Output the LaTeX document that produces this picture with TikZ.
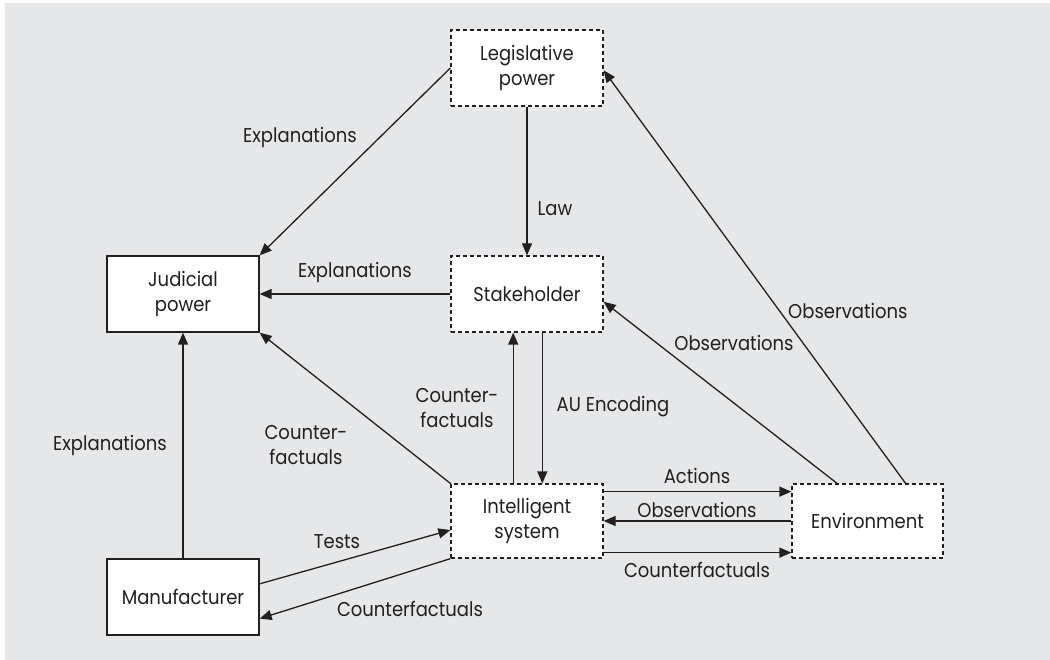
\documentclass[tikz,border=0pt]{standalone}
\usepackage{fontspec}
\setmainfont[FakeStretch=0.9]{Poppins}
\usetikzlibrary{arrows.meta,calc}
\definecolor{bg}{HTML}{E6E7E8}
\definecolor{ink}{HTML}{231F20}
\begin{document}
\begin{tikzpicture}[x=1pt,y=-1pt,
  font=\fontsize{20}{25}\selectfont, text=ink,
  solidbox/.style={draw=ink,fill=white,line width=1.3pt,minimum width=152pt,minimum height=76pt,inner sep=0pt,align=center},
  dashbox/.style={solidbox,dash pattern=on 4pt off 3pt},
  conn/.style={draw=ink,line width=1.3pt,-{Triangle[length=12pt,width=10pt]}},
  lbl/.style={inner sep=0pt,align=center}]
\useasboundingbox (0,0) rectangle (1050,660);
\fill[bg] (5,3) rectangle (1050,660);
\node[dashbox] (leg) at (527,68) {Legislative\\power};
\node[solidbox] (jud) at (183,294) {Judicial\\power};
\node[dashbox] (stk) at (527,294) {Stakeholder};
\node[dashbox,minimum height=74pt] (is) at (527,521) {Intelligent\\system};
\node[dashbox,minimum width=151pt,minimum height=74pt] (env) at (867.5,521) {Environment};
\node[solidbox] (man) at (183,597) {Manufacturer};
% connectors
\draw[conn] (leg.west) -- (jud.north east);
\draw[conn] (leg.south) -- (stk.north);
\draw[conn] (stk.west) -- (jud.east);
\draw[conn] (is.north west) -- (jud.south east);
\draw[conn] (man.north) -- (jud.south);
\draw[conn] ($(stk.south west)!0.6!(stk.south east)$) -- ($(is.north west)!0.6!(is.north east)$);
\draw[conn] ($(is.north west)!0.41!(is.north east)$) -- ($(stk.south west)!0.41!(stk.south east)$);
\draw[conn] ($(is.north east)!0.11!(is.south east)$) -- ($(env.north west)!0.11!(env.south west)$);
\draw[conn] ($(env.north west)!0.5!(env.south west)$) -- ($(is.north east)!0.5!(is.south east)$);
\draw[conn] ($(is.north east)!0.92!(is.south east)$) -- ($(env.north west)!0.92!(env.south west)$);
\draw[conn] ($(man.north east)!0.33!(man.south east)$) -- ($(is.north west)!0.62!(is.south west)$);
\draw[conn] (is.south west) -- ($(man.north east)!0.78!(man.south east)$);
\draw[conn] ($(env.north west)!0.3!(env.north east)$) -- ($(stk.north east)!0.6!(stk.south east)$);
\draw[conn] ($(env.north west)!0.75!(env.north east)$) -- ($(leg.north east)!0.53!(leg.south east)$);
% labels
\node[lbl] (l1) at (300,137) {Explanations};
\node[lbl] (l2) at (555,209) {Law};
\node[lbl] (l3) at (355,272) {Explanations};
\node[lbl] (l4) at (306,445) {Counter-\\factuals};
\node[lbl] (l5) at (110,445) {Explanations};
\node[lbl] (l6) at (457,408) {Counter-\\factuals};
\node[lbl] (l7) at (613,407) {AU Encoding};
\node[lbl] (l8) at (734,343) {Observations};
\node[lbl,anchor=west] (l9) at (788,311) {Observations};
\node[lbl] (l10) at (697,476) {Actions};
\node[lbl] (l11) at (697,510) {Observations};
\node[lbl] (l12) at (697,570) {Counterfactuals};
\node[lbl] (l13) at (337,542) {Tests};
\node[lbl] (l14) at (410,609) {Counterfactuals};
\end{tikzpicture}
\end{document}
